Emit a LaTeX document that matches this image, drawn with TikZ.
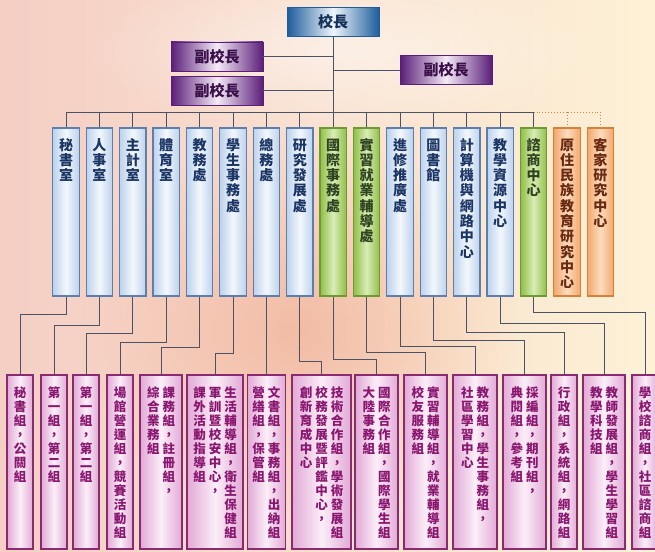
\documentclass[tikz,border=0pt]{standalone}
\usepackage{fontspec}
\usetikzlibrary{fadings}
\newfontfamily\cjk[RawFeature=+vert]{Noto Sans CJK TC}

\definecolor{bgleft}{HTML}{F5CEC4}
\definecolor{bgright}{HTML}{FDF1D6}
\definecolor{bgglow}{HTML}{EE9F84}
\definecolor{linec}{HTML}{4A5366}
\definecolor{dotc}{HTML}{D08848}
\definecolor{chiefedge}{HTML}{1D5D9B}
\definecolor{chiefmid}{HTML}{EEF5FB}
\definecolor{chieftext}{HTML}{14305A}
\definecolor{viceedge}{HTML}{5A1E78}
\definecolor{vicemid}{HTML}{F5EAF7}
\definecolor{vicetext}{HTML}{3B0F4A}
\definecolor{bluefill}{HTML}{BCD2EC}
\definecolor{bluemid}{HTML}{F3F7FC}
\definecolor{blueedge}{HTML}{5A7FB0}
\definecolor{bluetext}{HTML}{1B3565}
\definecolor{greenfill}{HTML}{8FBF45}
\definecolor{greenmid}{HTML}{D9ECB8}
\definecolor{greenedge}{HTML}{6E9A34}
\definecolor{greentext}{HTML}{2E4420}
\definecolor{orangefill}{HTML}{F2A86C}
\definecolor{orangemid}{HTML}{FBDCC0}
\definecolor{orangeedge}{HTML}{D7803A}
\definecolor{orangetext}{HTML}{6A2A10}
\definecolor{grpfill}{HTML}{E2A9D6}
\definecolor{grpmid}{HTML}{FBEEF8}
\definecolor{grpedge}{HTML}{8A2B72}
\definecolor{grptext}{HTML}{8A1670}

\tikzfading[name=softglow, inner color=transparent!0, outer color=transparent!100]

\makeatletter
\newcommand\vcol[1]{\vtop{\lineskiplimit=-\maxdimen
  \@tfor\vch:=#1\do{\hbox to 1em{\hss\vch\hss}}}}
\makeatother
\newcommand\cgap{\hspace{3pt}}

\begin{document}
\begin{tikzpicture}[
  x=1pt, y=-1pt,
  conn/.style={linec, line width=0.9pt},
  dotconn/.style={dotc, line width=0.9pt, dotted},
  headbox/.style={minimum width=92pt, minimum height=29pt, inner sep=0pt,
    line width=0.6pt, font=\cjk\bfseries\fontsize{15}{18}\selectfont},
  chief/.style={headbox, draw=chiefedge, left color=chiefedge,
    right color=chiefedge, middle color=chiefmid, text=chieftext},
  vice/.style={headbox, draw=viceedge, left color=viceedge,
    right color=viceedge, middle color=vicemid, text=vicetext},
  unitbox/.style={line width=1.2pt, minimum width=26.5pt, minimum height=168pt,
    inner sep=0pt, text height=22pt, text depth=146pt,
    font=\cjk\bfseries\fontsize{14}{15.3}\selectfont},
  blueunit/.style={unitbox, draw=blueedge, left color=bluefill,
    right color=bluefill, middle color=bluemid, text=bluetext},
  greenunit/.style={unitbox, draw=greenedge, left color=greenfill,
    right color=greenfill, middle color=greenmid, text=greentext},
  orangeunit/.style={unitbox, draw=orangeedge, left color=orangefill,
    right color=orangefill, middle color=orangemid, text=orangetext},
  grpbox/.style={draw=grpedge, line width=1.3pt, minimum width=#1,
    minimum height=174pt, inner sep=0pt, text height=22pt, text depth=152pt,
    left color=grpfill, right color=grpfill, middle color=grpmid, text=grptext,
    font=\cjk\bfseries\fontsize{12.5}{14}\selectfont},
]

\useasboundingbox (0,0) rectangle (655,551);
\shade [left color=bgleft, right color=bgright] (0,0) rectangle (655,551);
\fill [bgglow, path fading=softglow, opacity=0.55] (300,330) ellipse (220 and 190);
\fill [white, path fading=softglow, opacity=0.5] (340,50) ellipse (260 and 90);

\node [chief] (chief) at (333.2,22) {校長};
\node [vice] (vp1) at (217,56.5) {副校長};
\node [vice] (vp2) at (217,90.5) {副校長};
\node [vice] (vp3) at (446,70) {副校長};
\coordinate (bus) at (333.2,112);

\node [blueunit] (secr) at (66,212) {\vcol{秘書室}};
\node [blueunit] (pers) at (99.4,212) {\vcol{人事室}};
\node [blueunit] (acct) at (132.8,212) {\vcol{主計室}};
\node [blueunit] (phys) at (166.2,212) {\vcol{體育室}};
\node [blueunit] (acad) at (199.6,212) {\vcol{教務處}};
\node [blueunit] (stud) at (233,212) {\vcol{學生事務處}};
\node [blueunit] (gena) at (266.4,212) {\vcol{總務處}};
\node [blueunit] (rnd) at (299.8,212) {\vcol{研究發展處}};
\node [greenunit] (intl) at (333.2,212) {\vcol{國際事務處}};
\node [greenunit] (intern) at (366.6,212) {\vcol{實習就業輔導處}};
\node [blueunit] (ext) at (400,212) {\vcol{進修推廣處}};
\node [blueunit] (lib) at (433.4,212) {\vcol{圖書館}};
\node [blueunit] (cc) at (466.8,212) {\vcol{計算機與網路中心}};
\node [blueunit] (trc) at (500.2,212) {\vcol{教學資源中心}};
\node [greenunit] (couns) at (533.6,212) {\vcol{諮商中心}};
\node [orangeunit] (indig) at (567,212) {\vcol{原住民族教育研究中心}};
\node [orangeunit] (hakka) at (600.4,212) {\vcol{客家研究中心}};

\node [grpbox=26pt] (gsecr) at (20,462) {\vcol{秘書組，公關組}};
\node [grpbox=26pt] (gpers) at (54,462) {\vcol{第一組，第二組}};
\node [grpbox=26pt] (gacct) at (86,462) {\vcol{第一組，第二組}};
\node [grpbox=26pt] (gphys) at (120,462) {\vcol{場館營運組，競賽活動組}};
\node [grpbox=42pt] (gacad) at (161,462) {\vcol{綜合業務組}\cgap\vcol{課務組，註冊組，}};
\node [grpbox=56pt] (gstud) at (215,462)
  {\vcol{課外活動指導組}\cgap\vcol{軍訓暨校安中心，}\cgap\vcol{生活輔導組，衛生保健組}};
\node [grpbox=38pt] (ggena) at (266.4,462) {\vcol{營繕組，保管組}\cgap\vcol{文書組，事務組，出納組}};
\node [grpbox=59pt] (grnd) at (321.5,462)
  {\vcol{創新育成中心}\cgap\vcol{校務發展暨評鑑中心，}\cgap\vcol{技術合作組，學術發展組}};
\node [grpbox=43pt] (gintl) at (376.5,462) {\vcol{大陸事務組}\cgap\vcol{國際合作組，國際學生組}};
\node [grpbox=43pt] (gintern) at (425.5,462) {\vcol{校友服務組}\cgap\vcol{實習輔導組，就業輔導組}};
\node [grpbox=44pt] (gext) at (475,462) {\vcol{社區學習中心}\cgap\vcol{教務組，學生事務組，}};
\node [grpbox=43pt] (glib) at (524.5,462) {\vcol{典閱組，參考組}\cgap\vcol{採編組，期刊組，}};
\node [grpbox=26pt] (gcc) at (564,462) {\vcol{行政組，系統組，網路組}};
\node [grpbox=42pt] (gtrc) at (604,462) {\vcol{教學科技組}\cgap\vcol{教師發展組，學生學習組}};
\node [grpbox=26pt] (gcouns) at (645,462) {\vcol{學校諮商組，社區諮商組}};

% top of the chart
\draw [conn] (chief) -- (bus);
\draw [conn] (vp1) -- (vp1 -| chief);
\draw [conn] (vp2) -- (vp2 -| chief);
\draw [conn] (vp3) -- (vp3 -| chief);
\draw [conn] (secr |- bus) -- (couns |- bus);
\draw [dotconn] (couns |- bus) -- (hakka |- bus);
\draw [conn] (secr) -- (secr |- bus) (pers) -- (pers |- bus) (acct) -- (acct |- bus)
  (phys) -- (phys |- bus) (acad) -- (acad |- bus) (stud) -- (stud |- bus)
  (gena) -- (gena |- bus) (rnd) -- (rnd |- bus) (intl) -- (intl |- bus)
  (intern) -- (intern |- bus) (ext) -- (ext |- bus) (lib) -- (lib |- bus)
  (cc) -- (cc |- bus) (trc) -- (trc |- bus) (couns) -- (couns |- bus);
\draw [dotconn] (indig) -- (indig |- bus) (hakka) -- (hakka |- bus);

% units down to their groups
\draw [conn] (secr) -- (secr |- 0,314) -| (gsecr);
\draw [conn] (pers) -- (pers |- 0,325) -| (gpers);
\draw [conn] (acct) -- (acct |- 0,333) -| (gacct);
\draw [conn] (phys) -- (phys |- 0,342) -| (gphys);
\draw [conn] (acad) -- (acad |- 0,347) -| (gacad);
\draw [conn] (stud) -- (stud |- 0,353) -| (gstud);
\draw [conn] (gena) -- (ggena);
\draw [conn] (rnd) -- (rnd |- 0,361) -| (grnd);
\draw [conn] (intl) -- (intl |- 0,359) -| (gintl);
\draw [conn] (intern) -- (intern |- 0,352) -| (gintern);
\draw [conn] (ext) -- (ext |- 0,346) -| (gext);
\draw [conn] (lib) -- (lib |- 0,340) -| (glib);
\draw [conn] (cc) -- (cc |- 0,332) -| (gcc);
\draw [conn] (trc) -- (trc |- 0,323) -| (gtrc);
\draw [conn] (couns) -- (couns |- 0,312) -| (gcouns);

\end{tikzpicture}
\end{document}
